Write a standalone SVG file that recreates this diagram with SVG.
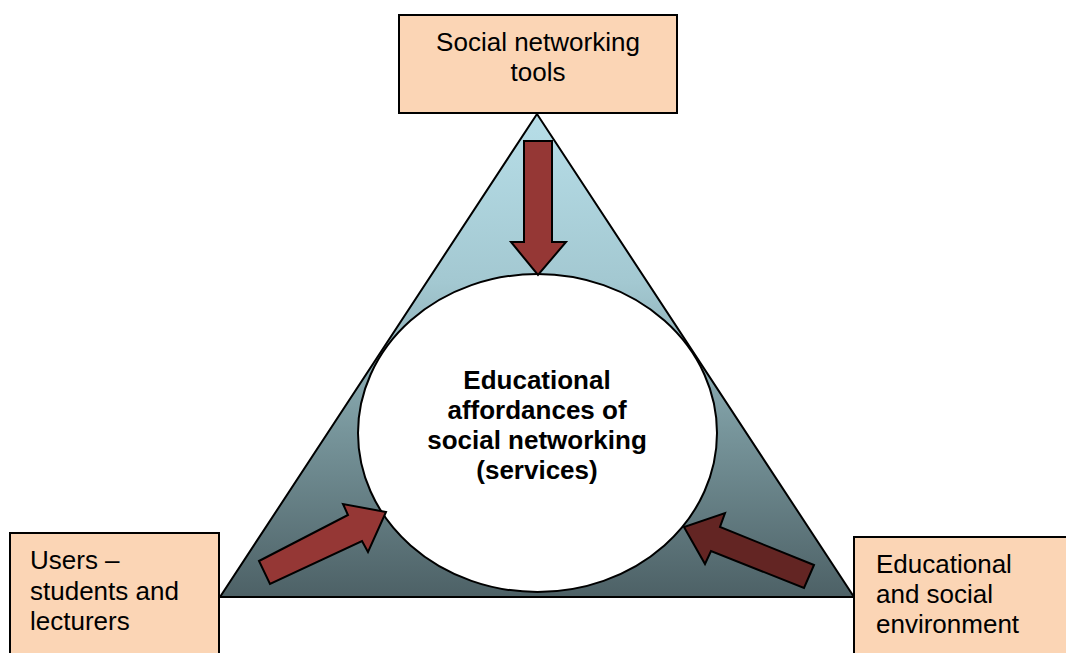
<svg xmlns="http://www.w3.org/2000/svg" width="1066" height="653" viewBox="0 0 1066 653">
<style>
.box{fill:#fbd5b5;stroke:#000;stroke-width:2}
.t{font-family:"Liberation Sans",Arial,sans-serif;font-size:26px;fill:#000}
.c{font-family:"Liberation Sans",Arial,sans-serif;font-size:26px;font-weight:bold;fill:#000;text-anchor:middle}
.arr{fill:#953735;stroke:#000;stroke-width:2;stroke-linejoin:miter}
</style>
<defs>
<linearGradient id="g" x1="0" y1="0" x2="0" y2="1">
<stop offset="0" stop-color="#b7dee8"/>
<stop offset="0.35" stop-color="#a3c8d1"/>
<stop offset="0.65" stop-color="#78969c"/>
<stop offset="1" stop-color="#4d6166"/>
</linearGradient>
</defs>
<g id="triangle">
<polygon points="537,114 220,597 854,597" fill="url(#g)" stroke="#000" stroke-width="2"/>
</g>
<g id="center">
<ellipse cx="537.5" cy="433" rx="179.5" ry="159" fill="#fff" stroke="#000" stroke-width="2"/>
<text class="c" x="537" y="389">Educational</text>
<text class="c" x="537" y="419">affordances of</text>
<text class="c" x="537" y="449">social networking</text>
<text class="c" x="537" y="479">(services)</text>
</g>
<g id="connectors">
<polygon class="arr" points="524,141 552,141 552,242 566,242 538,275 511,242 524,242"/>
<polygon class="arr" points="259,561 348,515 343,504 386,512 368,552 362,541 270,584"/>
<polygon class="arr" points="814,565 720,527 725,513 684,527 705,564 711,551 804,588" style="fill:#632523"/>
</g>
<g id="top">
<rect class="box" x="399" y="15" width="278" height="98"/>
<text class="t" x="538" y="51" text-anchor="middle">Social networking</text>
<text class="t" x="538" y="81" text-anchor="middle">tools</text>
</g>
<g id="left">
<rect class="box" x="10" y="533" width="209" height="130"/>
<text class="t" x="30" y="569">Users –</text>
<text class="t" x="30" y="600">students and</text>
<text class="t" x="30" y="630">lecturers</text>
</g>
<g id="right">
<rect class="box" x="854" y="537" width="222" height="130"/>
<text class="t" x="876" y="573">Educational</text>
<text class="t" x="876" y="603">and social</text>
<text class="t" x="876" y="633">environment</text>
</g>
</svg>
